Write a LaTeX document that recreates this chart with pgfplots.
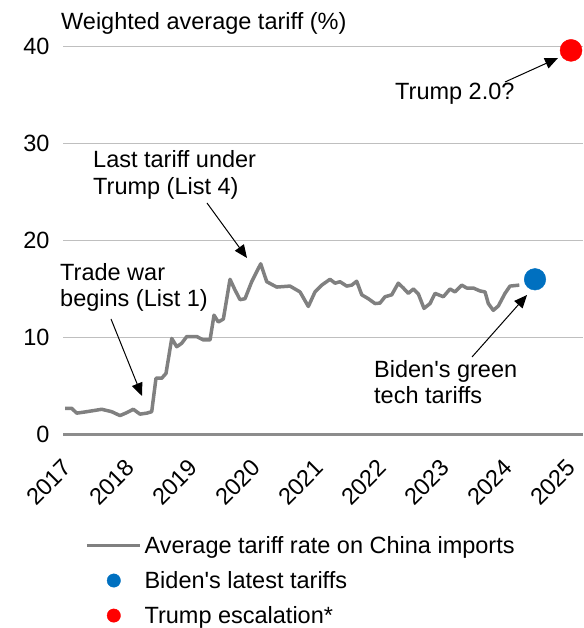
\documentclass[border=0pt]{standalone}
\usepackage{fontspec}
\setmainfont{Liberation Sans}
\usepackage{pgfplots}
\pgfplotsset{compat=1.18}
\usepackage{pgfplotstable}
\usetikzlibrary{arrows.meta}
\definecolor{lineGray}{RGB}{128,128,128}
\definecolor{gridGray}{RGB}{191,191,191}
\definecolor{axisGray}{RGB}{140,140,140}
\definecolor{bidenBlue}{RGB}{0,112,192}
\definecolor{trumpRed}{RGB}{255,0,0}
\newcommand{\bigfont}{\fontsize{23.5}{27}\selectfont}

\pgfplotstableread{
x y
2017.000 2.7
2017.106 2.7
2017.186 2.2
2017.344 2.35
2017.583 2.6
2017.741 2.35
2017.873 1.95
2017.979 2.25
2018.084 2.6
2018.190 2.1
2018.297 2.2
2018.376 2.35
2018.444 5.8
2018.535 5.8
2018.603 6.3
2018.694 9.9
2018.773 9.05
2018.852 9.4
2018.932 10.1
2019.090 10.1
2019.195 9.75
2019.302 9.75
2019.365 12.3
2019.433 11.6
2019.513 11.9
2019.619 16.0
2019.698 14.9
2019.778 13.9
2019.857 14.0
2019.963 15.75
2020.106 17.6
2020.202 15.75
2020.360 15.2
2020.571 15.3
2020.730 14.7
2020.862 13.2
2020.968 14.7
2021.075 15.4
2021.206 16.0
2021.286 15.6
2021.365 15.75
2021.471 15.3
2021.551 15.4
2021.630 15.8
2021.710 14.4
2021.814 14.0
2021.921 13.5
2022.000 13.55
2022.079 14.2
2022.186 14.4
2022.290 15.6
2022.370 15.1
2022.449 14.55
2022.529 15.0
2022.608 14.5
2022.698 13.0
2022.794 13.5
2022.873 14.55
2023.005 14.2
2023.111 15.0
2023.190 14.7
2023.297 15.4
2023.376 15.1
2023.481 15.1
2023.587 14.8
2023.667 14.7
2023.719 13.5
2023.798 12.8
2023.878 13.25
2023.984 14.55
2024.063 15.3
2024.211 15.4
}\tariff

\pgfplotstableread{
x y
2024.460 16.0
}\biden

\pgfplotstableread{
x y
2025.032 39.6
}\trump

\begin{document}
\begin{tikzpicture}[x=1pt,y=1pt]
\useasboundingbox (0,0) rectangle (583,628);
\begin{axis}[
  at={(63pt,193.5pt)}, anchor=south west,
  width=520pt, height=388pt, scale only axis,
  xmin=2016.968, xmax=2025.222, ymin=0, ymax=40,
  clip=false,
  xtick={2017,2018,2019,2020,2021,2022,2023,2024,2025},
  xticklabels={2017,2018,2019,2020,2021,2022,2023,2024,2025},
  ytick={0,10,20,30,40},
  /pgf/number format/assume math mode=true,
  tick label style={font=\bigfont, text=black},
  xticklabel style={xshift=5pt, yshift=-27pt, rotate=45, anchor=east},
  yticklabel style={xshift=-10pt},
  major tick length=0pt,
  ymajorgrids,
  grid style={gridGray, line width=1.2pt},
  axis x line*=bottom,
  separate axis lines,
  x axis line style={axisGray, line width=3.5pt},
  y axis line style={draw=none},
  legend style={at={(0.042,-0.254)}, anchor=north west, draw=none, fill=none,
    inner sep=0pt, row sep=10.5pt, font=\bigfont,
    nodes={inner sep=3pt}},
  legend cell align=left,
]
\addplot[lineGray, line width=3.5pt, line join=round,
  legend image code/.code={\draw[lineGray, line width=3.5pt] (0pt,0pt) -- (53pt,0pt);}]
  table[x=x,y=y] {\tariff};
\addlegendentry{Average tariff rate on China imports}
\addplot[only marks, mark=*, mark size=10.8pt, color=bidenBlue,
  legend image code/.code={\path[draw=none] (0pt,0pt) -- (53pt,0pt); \fill[bidenBlue] (27pt,0pt) circle (6.7pt);}]
  table[x=x,y=y] {\biden};
\addlegendentry{Biden\textquotesingle s latest tariffs}
\addplot[only marks, mark=*, mark size=11pt, color=trumpRed,
  legend image code/.code={\path[draw=none] (0pt,0pt) -- (53pt,0pt); \fill[trumpRed] (27pt,0pt) circle (6.7pt);}]
  table[x=x,y=y] {\trump};
\addlegendentry{Trump escalation*}
\end{axis}

\begin{scope}[every node/.style={font=\bigfont, inner sep=0pt, anchor=base west}]
\node at (61,598) {Weighted average tariff (\%)};
\node at (395,528) {Trump 2.0?};
\node at (93,460) {Last tariff under};
\node at (93,433) {Trump (List 4)};
\node at (60,347) {Trade war};
\node at (60,321) {begins (List 1)};
\node at (374,250) {Biden\textquotesingle s green};
\node at (374,224) {tech tariffs};
\end{scope}
\begin{scope}[line width=1pt, -{Triangle[length=13pt,width=11pt]}]
\draw (505,546) -- (558,570);
\draw (207,425) -- (247,370);
\draw (111,309) -- (142,232);
\draw (472,271) -- (527,333);
\end{scope}
\end{tikzpicture}
\end{document}
